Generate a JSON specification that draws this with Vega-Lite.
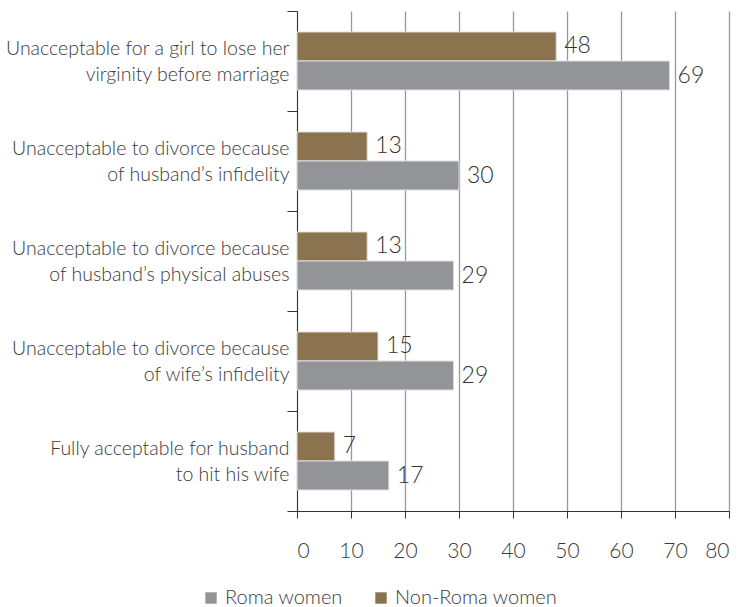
{
  "$schema": "https://vega.github.io/schema/vega-lite/v6.json",
  "width": 432,
  "height": 500,
  "autosize": {"type": "none"},
  "padding": {"left": 297, "top": 11, "right": 12, "bottom": 96},
  "background": "white",
  "config": {
    "view": {"stroke": null},
    "font": "Lato",
    "text": {"fill": "#333333"}
  },
  "data": {
    "values": [
      {"cat": "Unacceptable for a girl to lose her\nvirginity before marriage", "group": "Non-Roma women", "value": 48},
      {"cat": "Unacceptable for a girl to lose her\nvirginity before marriage", "group": "Roma women", "value": 69},
      {"cat": "Unacceptable to divorce because\nof husband’s infidelity", "group": "Non-Roma women", "value": 13},
      {"cat": "Unacceptable to divorce because\nof husband’s infidelity", "group": "Roma women", "value": 30},
      {"cat": "Unacceptable to divorce because\nof husband’s physical abuses", "group": "Non-Roma women", "value": 13},
      {"cat": "Unacceptable to divorce because\nof husband’s physical abuses", "group": "Roma women", "value": 29},
      {"cat": "Unacceptable to divorce because\nof wife’s infidelity", "group": "Non-Roma women", "value": 15},
      {"cat": "Unacceptable to divorce because\nof wife’s infidelity", "group": "Roma women", "value": 29},
      {"cat": "Fully acceptable for husband\nto hit his wife", "group": "Non-Roma women", "value": 7},
      {"cat": "Fully acceptable for husband\nto hit his wife", "group": "Roma women", "value": 17}
    ]
  },
  "encoding": {
    "y": {
      "field": "cat",
      "type": "nominal",
      "sort": null,
      "title": null,
      "scale": {"paddingInner": 0, "paddingOuter": 0},
      "axis": {
        "labelExpr": "split(datum.label, '\\n')",
        "labelFont": "Lato",
        "labelFontWeight": 300,
        "labelFontSize": 19.5,
        "labelLineHeight": 26,
        "labelOffset": -13,
        "labelColor": "#3a3a3a",
        "labelLimit": 300,
        "labelPadding": -2,
        "tickSize": 10,
        "tickColor": "#333",
        "tickBand": "extent",
        "domainColor": "#333",
        "domainWidth": 1,
        "tickWidth": 1
      }
    },
    "x": {
      "field": "value",
      "type": "quantitative",
      "title": null,
      "scale": {"domain": [0, 80], "nice": false},
      "axis": {
        "values": [0, 10, 20, 30, 40, 50, 60, 70, 80],
        "grid": true,
        "gridColor": "#999",
        "gridWidth": 1.3,
        "domainColor": "#333",
        "tickColor": "#333",
        "tickSize": 7,
        "labelFont": "Lato",
        "labelFontWeight": 300,
        "labelFontSize": 21,
        "labelColor": "#3a3a3a",
        "labelPadding": 22
      }
    },
    "yOffset": {
      "field": "group",
      "type": "nominal",
      "sort": ["Non-Roma women", "Roma women"],
      "scale": {"paddingInner": 0, "paddingOuter": 0.724}
    }
  },
  "layer": [
    {
      "mark": {"type": "bar", "stroke": "#e0e0e0", "strokeWidth": 1},
      "encoding": {
        "color": {
          "field": "group",
          "type": "nominal",
          "scale": {"domain": ["Roma women", "Non-Roma women"], "range": ["#939498", "#8c7350"]},
          "legend": {
            "orient": "none",
            "legendX": -96,
            "legendY": 577,
            "direction": "horizontal",
            "title": null,
            "symbolType": "square",
            "symbolSize": 130,
            "symbolStrokeWidth": 0,
            "labelFont": "Lato",
            "labelFontWeight": 300,
            "labelFontSize": 20,
            "labelColor": "#3a3a3a",
            "labelOffset": 4,
            "labelLimit": 300,
            "columnPadding": 28
          }
        }
      }
    },
    {
      "mark": {"type": "text", "align": "left", "baseline": "middle", "dx": 8, "font": "Lato", "fontWeight": 300, "fontSize": 23, "fill": "#333333"},
      "encoding": {
        "text": {"field": "value", "type": "quantitative"}
      }
    }
  ]
}
